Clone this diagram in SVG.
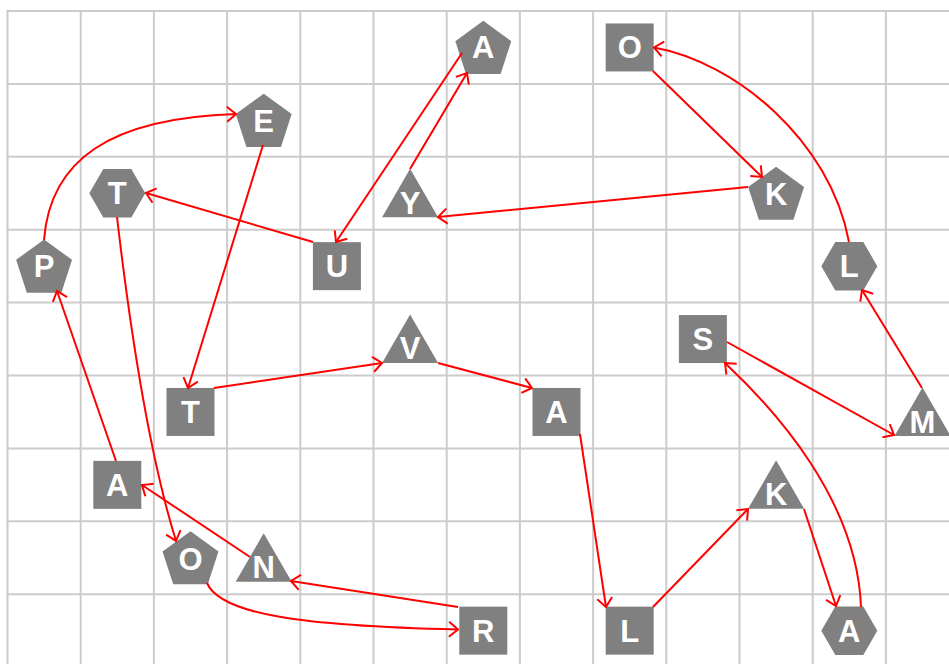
<svg xmlns="http://www.w3.org/2000/svg" width="949" height="664" viewBox="0 0 949 664">
<style>
.grid line{stroke:#cccccc;stroke-width:2}
.node{fill:#808080}
.lbl{fill:#ffffff;font-family:"Liberation Sans",Arial,sans-serif;font-weight:bold;font-size:31px;text-anchor:middle}
.edge{fill:none;stroke:#ff0000;stroke-width:2;marker-end:url(#arr)}
</style>
<defs>
<marker id="arr" markerUnits="userSpaceOnUse" orient="auto" refX="0" refY="0" markerWidth="20" markerHeight="20" overflow="visible">
<path d="M-9,-7.5 L0,0 L-9,7.5" fill="none" stroke="#ff0000" stroke-width="2"/>
</marker>
<rect id="sq" x="-24" y="-24" width="48" height="48"/>
<polygon id="pent" points="0,-26.6 27.96,-6.29 17.28,26.59 -17.28,26.59 -27.96,-6.29"/>
<polygon id="hex" points="-28,0 -14,-24.25 14,-24.25 28,0 14,24.25 -14,24.25"/>
<polygon id="tri" points="0,-24.5 28,24 -28,24"/>
</defs>
<rect width="949" height="664" fill="#ffffff"/>
<g class="grid">
<line x1="7.5" y1="11" x2="7.5" y2="664"/>
<line x1="80.7" y1="11" x2="80.7" y2="664"/>
<line x1="153.9" y1="11" x2="153.9" y2="664"/>
<line x1="227.1" y1="11" x2="227.1" y2="664"/>
<line x1="300.3" y1="11" x2="300.3" y2="664"/>
<line x1="373.5" y1="11" x2="373.5" y2="664"/>
<line x1="446.7" y1="11" x2="446.7" y2="664"/>
<line x1="519.9" y1="11" x2="519.9" y2="664"/>
<line x1="593.1" y1="11" x2="593.1" y2="664"/>
<line x1="666.3" y1="11" x2="666.3" y2="664"/>
<line x1="739.5" y1="11" x2="739.5" y2="664"/>
<line x1="812.7" y1="11" x2="812.7" y2="664"/>
<line x1="885.9" y1="11" x2="885.9" y2="664"/>
<line x1="6.5" y1="11" x2="949" y2="11"/>
<line x1="6.5" y1="83.9" x2="949" y2="83.9"/>
<line x1="6.5" y1="156.8" x2="949" y2="156.8"/>
<line x1="6.5" y1="229.7" x2="949" y2="229.7"/>
<line x1="6.5" y1="302.6" x2="949" y2="302.6"/>
<line x1="6.5" y1="375.5" x2="949" y2="375.5"/>
<line x1="6.5" y1="448.4" x2="949" y2="448.4"/>
<line x1="6.5" y1="521.3" x2="949" y2="521.3"/>
<line x1="6.5" y1="594.2" x2="949" y2="594.2"/>
</g>
<g id="nodes">
<g id="n-A1" transform="translate(483.3,47.45)"><use href="#pent" class="node"/><text class="lbl" x="0" y="11">A</text></g>
<g id="n-O1" transform="translate(629.7,47.45)"><use href="#sq" class="node"/><text class="lbl" x="0" y="11">O</text></g>
<g id="n-E" transform="translate(263.7,120.35)"><use href="#pent" class="node"/><text class="lbl" x="0" y="12">E</text></g>
<g id="n-T1" transform="translate(117.3,193.25)"><use href="#hex" class="node"/><text class="lbl" x="0" y="11">T</text></g>
<g id="n-Y" transform="translate(410.1,193.25)"><use href="#tri" class="node"/><text class="lbl" x="0" y="21">Y</text></g>
<g id="n-K1" transform="translate(776.1,193.25)"><use href="#pent" class="node"/><text class="lbl" x="0" y="12">K</text></g>
<g id="n-P" transform="translate(44.1,266.15)"><use href="#pent" class="node"/><text class="lbl" x="0" y="11">P</text></g>
<g id="n-U" transform="translate(336.9,266.15)"><use href="#sq" class="node"/><text class="lbl" x="0" y="11">U</text></g>
<g id="n-L1" transform="translate(849.3,266.15)"><use href="#hex" class="node"/><text class="lbl" x="0" y="11">L</text></g>
<g id="n-S" transform="translate(702.9,339.05)"><use href="#sq" class="node"/><text class="lbl" x="0" y="11">S</text></g>
<g id="n-V" transform="translate(410.1,339.05)"><use href="#tri" class="node"/><text class="lbl" x="0" y="20">V</text></g>
<g id="n-M" transform="translate(922.5,411.95)"><use href="#tri" class="node"/><text class="lbl" x="0" y="21">M</text></g>
<g id="n-T2" transform="translate(190.5,411.95)"><use href="#sq" class="node"/><text class="lbl" x="0" y="11">T</text></g>
<g id="n-A2" transform="translate(556.5,411.95)"><use href="#sq" class="node"/><text class="lbl" x="0" y="11">A</text></g>
<g id="n-A3" transform="translate(117.3,484.85)"><use href="#sq" class="node"/><text class="lbl" x="0" y="11">A</text></g>
<g id="n-K2" transform="translate(776.1,484.85)"><use href="#tri" class="node"/><text class="lbl" x="0" y="20">K</text></g>
<g id="n-O2" transform="translate(190.5,557.75)"><use href="#pent" class="node"/><text class="lbl" x="0" y="12">O</text></g>
<g id="n-N" transform="translate(263.7,557.75)"><use href="#tri" class="node"/><text class="lbl" x="0" y="20">N</text></g>
<g id="n-R" transform="translate(483.3,630.65)"><use href="#sq" class="node"/><text class="lbl" x="0" y="11">R</text></g>
<g id="n-L2" transform="translate(629.7,630.65)"><use href="#sq" class="node"/><text class="lbl" x="0" y="11">L</text></g>
<g id="n-A4" transform="translate(849.3,630.65)"><use href="#hex" class="node"/><text class="lbl" x="0" y="11">A</text></g>
</g>
<g id="connectors">
<path class="edge" d="M44,240 C50,160 110,118 236,114"/>
<path class="edge" d="M263,145 L188,388"/>
<path class="edge" d="M313,242 L146,193"/>
<path class="edge" d="M462,53 L336,242"/>
<path class="edge" d="M410,169 L467,73"/>
<path class="edge" d="M748,187 L438,217"/>
<path class="edge" d="M653,71 L762,177"/>
<path class="edge" d="M849,242 C830,140 735,62 654,47.5"/>
<path class="edge" d="M922,388 L862,290"/>
<path class="edge" d="M727,342 L894,435"/>
<path class="edge" d="M214,388 L382,363"/>
<path class="edge" d="M438,363 L532,388"/>
<path class="edge" d="M580,434 L606,607"/>
<path class="edge" d="M653,607 L748,509"/>
<path class="edge" d="M804,509 L836,606"/>
<path class="edge" d="M861,607 C857,500 775,410 725,363"/>
<path class="edge" d="M117,217 Q142,431 176,541"/>
<path class="edge" d="M250,557 L142,485"/>
<path class="edge" d="M116,461 L57,291"/>
<path class="edge" d="M458,607 L291,581"/>
<path class="edge" d="M207,583 C220,614 300,626 458,629.5"/>
</g>
</svg>
